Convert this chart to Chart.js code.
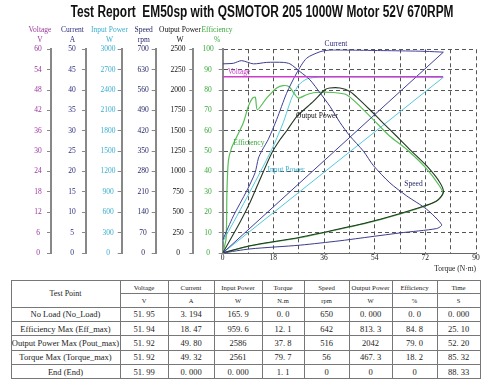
<!DOCTYPE html>
<html>
<head>
<meta charset="utf-8">
<script src="https://cdn.jsdelivr.net/npm/chart.js@4.4.1/dist/chart.umd.min.js"></script>
<style>
  html, body { margin: 0; padding: 0; background: #fff; }
  body { width: 488px; height: 390px; position: relative; overflow: hidden; }
  #wrap { position: absolute; left: 0; top: 0; width: 488px; height: 280px; }
  #title { position: absolute; left: 261.5px; top: 0; white-space: nowrap; transform-origin: 50% 50%;
    font: bold 16px/24px "Liberation Sans", Arial, sans-serif; color: #111; }
  #tbl { position: absolute; left: 10.5px; top: 280px; width: 469px; border-collapse: collapse; table-layout: fixed;
    font-family: "Liberation Serif", "Times New Roman", serif; color: #222; border: 1.5px solid #666; }
  #tbl td { border: 1px solid #777; text-align: center; padding: 0; white-space: nowrap; overflow: hidden; font-size: 8.5px; }
  #tbl td.h { font-size: 6.8px; }
  #tbl td.u { font-size: 6.5px; }
  #tbl td.tp { font-size: 8px; }
</style>
</head>
<body>
<div id="wrap"><canvas id="chart"></canvas></div>
<div id="title">Test Report&nbsp; EM50sp with QSMOTOR 205 1000W Motor 52V 670RPM</div>
<table id="tbl"></table>
<script>
// curves (torque N·m -> value)
const voltageTorque = [0, 20, 40, 60, 78.3];
const voltageV = [51.95, 51.94, 51.93, 51.92, 51.92];

const currentTorque = [0, 3.8, 8.5, 11.5, 12.7, 14, 16.2, 19.2, 22.7, 26.3, 29.8, 34.6, 37.8, 45, 55, 65, 72, 78.4];
const currentA = [3.19, 9.1, 15.2, 19.7, 23.3, 25.2, 27.9, 32.8, 39.2, 44.2, 47.8, 49.4, 49.8, 49.8, 49.7, 49.6, 49.5, 49.3];
const currentBackTorque = [78.4, 0];
const currentBackA = [49.3, 0];

const inputTorque = [0, 4, 8.5, 12.5, 15.5, 18, 21.5, 24.5, 27, 30, 34, 37.8, 50, 65, 78.4];
const inputW = [166, 465, 810, 1125, 1365, 1575, 1920, 2280, 2475, 2565, 2590, 2594, 2594, 2592, 2588];
const inputBackTorque = [78.4, 0];
const inputBackW = [2588, 0];

const speedTorque = [0, 3.8, 6.7, 10.9, 15.6, 21.5, 23.9, 27.5, 31, 34.6, 38.1, 41.7, 45.2, 50, 53.5, 59.4, 65.4, 72.5, 77.8, 76, 63, 48.8, 41.7, 27.5, 9.7, 0];
const speedRpm = [650, 652, 661, 650, 655, 655, 650, 623, 595, 550, 504, 448, 402, 350, 301, 241, 196, 150, 97, 84, 69, 51, 42, 27, 14, 0];

const outputTorque = [0, 6.1, 9.7, 13.2, 17.4, 20.4, 23, 26.3, 32.2, 36.3, 38, 41.7, 45.2, 47.6, 52.3, 57, 61.8, 66.5, 72.5, 77.2, 78.4, 76, 70, 56, 42, 27.5, 9.7, 0];
const outputW = [0, 375, 620, 900, 1225, 1393, 1513, 1675, 1860, 2003, 2025, 2025, 1983, 1913, 1758, 1595, 1433, 1270, 1068, 863, 740, 638, 558, 415, 300, 193, 90, 0];

const effTorque = [0, 1.2, 1.5, 2, 3, 4.5, 7.3, 9.1, 10.6, 11.6, 12.3, 15.6, 19.2, 21.5, 23.6, 25.7, 26.9, 29.8, 32.8, 39.3, 44, 48.8, 53.5, 59.4, 65.4, 72, 77, 78.2, 76, 70, 56, 42, 27.5, 9.7, 0];
const effPct = [0, 7, 30, 45, 51, 55.7, 63.8, 72, 76, 76.5, 70.3, 76, 81, 82.2, 81.6, 77.7, 76, 77.7, 78.8, 78.8, 77.7, 72, 65.5, 57.3, 50.8, 42, 33, 29, 25.5, 22.1, 16.4, 11.8, 7.5, 3.5, 0];

// table
const tableHeads = ['Voltage', 'Current', 'Input Power', 'Torque', 'Speed', 'Output Power', 'Efficiency', 'Time'];
const tableUnits = ['V', 'A', 'W', 'N.m', 'rpm', 'W', '%', 'S'];
const testPoints = ['No Load (No_Load)', 'Efficiency Max (Eff_max)', 'Output Power Max (Pout_max)', 'Torque Max (Torque_max)', 'End (End)'];
const colVoltage = ['51. 95', '51. 94', '51. 92', '51. 92', '51. 99'];
const colCurrent = ['3. 194', '18. 47', '49. 80', '49. 32', '0. 000'];
const colInput = ['165. 9', '959. 6', '2586', '2561', '0. 000'];
const colTorque = ['0. 0', '12. 1', '37. 8', '79. 7', '1. 1'];
const colSpeed = ['650', '642', '516', '56', '0'];
const colOutput = ['0. 000', '813. 3', '2042', '467. 3', '0'];
const colEff = ['0. 0', '84. 8', '79. 0', '18. 2', '0'];
const colTime = ['0. 000', '25. 10', '52. 20', '85. 32', '88. 33'];

const serif = '"Liberation Serif", "Times New Roman", serif';
const C = {
  volt: '#9b369b', voltLine: '#cc3dcc',
  cur: '#2c2c80', curLine: '#40409c',
  inp: '#3aaecf', inpLine: '#55c8dc',
  spd: '#28286a', spdLine: '#3c3c8c',
  out: '#111111', outLine: '#243824',
  eff: '#3aa83a', effLine: '#58be58'
};

// squeeze the bold title to the condensed width of the original, centred at x=261.5
(function () {
  const s = document.getElementById('title');
  const w = s.getBoundingClientRect().width;
  s.style.transform = 'translateX(-50%) scaleX(' + (383 / w) + ')';
})();

// build table
(function () {
  const t = document.getElementById('tbl');
  const widths = [109, 48, 46, 48, 42, 45, 43, 45, 43];
  let h = '<colgroup>' + widths.map(w => '<col style="width:' + w + 'px">').join('') + '</colgroup>';
  h += '<tr style="height:13px"><td class="tp" rowspan="2">Test Point</td>' + tableHeads.map(s => '<td class="h">' + s + '</td>').join('') + '</tr>';
  h += '<tr style="height:13.5px">' + tableUnits.map(s => '<td class="u">' + s + '</td>').join('') + '</tr>';
  const cols = [colVoltage, colCurrent, colInput, colTorque, colSpeed, colOutput, colEff, colTime];
  testPoints.forEach((name, i) => {
    h += '<tr style="height:14.4px"><td>' + name + '</td>' + cols.map(c => '<td>' + c[i] + '</td>').join('') + '</tr>';
  });
  t.innerHTML = h;
})();

function pts(xs, ys) { return xs.map((x, i) => ({ x: x, y: ys[i] })); }

function line(label, xs, ys, axis, color, width) {
  return { label, data: pts(xs, ys), yAxisID: axis, borderColor: color, borderWidth: width || 1,
    pointRadius: 0, tension: 0.25, fill: false };
}

function yScale(max, step, color, weight, width, pad, onArea) {
  return {
    type: 'linear', position: 'left', min: 0, max: max, weight: weight,
    afterFit: s => { s.width = width; },
    ticks: { stepSize: step, autoSkip: false, color: color, padding: pad, crossAlign: 'center',
      font: { family: serif, size: 7.5 }, callback: v => String(v) },
    grid: onArea
      ? { color: '#555', lineWidth: 1, tickLength: 4, tickColor: '#888', drawOnChartArea: true }
      : { drawOnChartArea: false, tickLength: 4, color: '#888' },
    border: onArea ? { color: '#888', width: 2, dash: [4, 3] } : { color: '#888', width: 2 }
  };
}

// axis headers (name, unit) drawn above each y axis
const axisHeads = [
  { id: 'yV', name: 'Voltage', unit: 'V', color: C.volt, dx: 11 },
  { id: 'yC', name: 'Current', unit: 'A', color: C.cur, dx: 13.5 },
  { id: 'yI', name: 'Input Power', unit: 'W', color: C.inp, dx: 12.2 },
  { id: 'yS', name: 'Speed', unit: 'rpm', color: C.spd, dx: 12 },
  { id: 'yO', name: 'Output Power', unit: 'W', color: C.out, dx: 13.3 },
  { id: 'yE', name: 'Efficiency', unit: '%', color: C.eff, dx: 5.7 }
];

// curve names placed in torque / % coordinates
const curveNames = [
  { text: 'Current', t: 40.2, p: 102.4, color: C.cur },
  { text: 'Voltage', t: 5.8, p: 88.8, color: C.voltLine },
  { text: 'Output Power', t: 33.5, p: 67.4, color: C.out },
  { text: 'Efficiency', t: 9.3, p: 54.1, color: C.eff },
  { text: 'Input Power', t: 22.5, p: 40.7, color: C.inp },
  { text: 'Speed', t: 67.8, p: 33.7, color: C.spd }
];

const labelsPlugin = {
  id: 'labels',
  afterDraw(chart) {
    const ctx = chart.ctx;
    ctx.save();
    ctx.font = '7.5px ' + serif;
    ctx.textAlign = 'center';
    ctx.textBaseline = 'middle';
    axisHeads.forEach(a => {
      const s = chart.scales[a.id];
      const x = s.right - a.dx;
      ctx.fillStyle = a.color;
      ctx.fillText(a.name, x, 30);
      ctx.fillText(a.unit, x, 40);
    });
    const xs = chart.scales.x, ys = chart.scales.yE;
    curveNames.forEach(n => {
      ctx.fillStyle = n.color;
      ctx.fillText(n.text, xs.getPixelForValue(n.t), ys.getPixelForValue(n.p));
    });
    ctx.restore();
  }
};

new Chart(document.getElementById('chart'), {
  type: 'line',
  data: {
    datasets: [
      line('Voltage', voltageTorque, voltageV, 'yV', C.voltLine, 1.5),
      line('Current', currentTorque, currentA, 'yC', C.curLine),
      Object.assign(line('Current back', currentBackTorque, currentBackA, 'yC', C.curLine), { tension: 0 }),
      line('Speed', speedTorque, speedRpm, 'yS', C.spdLine),
      line('Output Power', outputTorque, outputW, 'yO', C.outLine, 1.1),
      line('Efficiency', effTorque, effPct, 'yE', C.effLine, 1.2),
      line('Input Power', inputTorque, inputW, 'yI', C.inpLine),
      Object.assign(line('Input back', inputBackTorque, inputBackW, 'yI', C.inpLine), { tension: 0 })
    ]
  },
  options: {
    responsive: true,
    maintainAspectRatio: false,
    animation: false,
    layout: { padding: { left: 16, right: 12, top: 49.3, bottom: 6 } },
    plugins: { legend: { display: false }, tooltip: { enabled: false }, title: { display: false } },
    scales: {
      x: {
        type: 'linear', position: 'bottom', min: 0, max: 90,
        ticks: { stepSize: 9, autoSkip: false, maxRotation: 0, padding: 1, color: '#222',
          font: { family: serif, size: 7.5 }, callback: v => (v % 18 === 0 ? String(v) : '') },
        grid: { color: '#555', drawTicks: false },
        border: { color: '#666', width: 1, dash: [4, 3] },
        title: { display: true, text: 'Torque (N·m)', align: 'end', color: '#222',
          font: { family: serif, size: 7.5 }, padding: { top: 1, bottom: 0 } }
      },
      yV: yScale(60, 6, C.volt, 6, 35, 5.25, false),
      yC: yScale(50, 5, C.cur, 5, 35, 6.25, false),
      yI: yScale(3000, 300, C.inp, 4, 35.7, 2.2, false),
      yS: yScale(700, 70, C.spd, 3, 34, 3, false),
      yO: yScale(2500, 250, C.out, 2, 37.6, 3.8, false),
      yE: yScale(100, 10, C.eff, 1, 29.4, 5, true)
    }
  },
  plugins: [labelsPlugin]
});
</script>
</body>
</html>
